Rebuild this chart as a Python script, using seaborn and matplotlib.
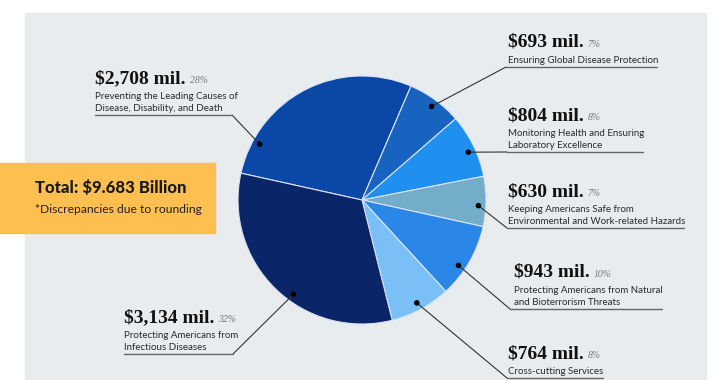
import matplotlib
matplotlib.use("Agg")
import matplotlib.pyplot as plt
import matplotlib.patches as mpatches
import numpy as np
import pandas as pd
import seaborn as sns

# ── data ──
amounts = [2708, 693, 804, 630, 943, 764, 3134]
descriptions = [
    "Preventing the Leading Causes of\nDisease, Disability, and Death",
    "Ensuring Global Disease Protection",
    "Monitoring Health and Ensuring\nLaboratory Excellence",
    "Keeping Americans Safe from\nEnvironmental and Work-related Hazards",
    "Protecting Americans from Natural\nand Bioterrorism Threats",
    "Cross-cutting Services",
    "Protecting Americans from\nInfectious Diseases",
]
total_label = "Total: $9.683 Billion"
note_label = "*Discrepancies due to rounding"

# ── style / layout (pixels, y measured from top) ──
W, H = 720, 380
slice_colors = ["#0b47a6", "#1862c0", "#1f8ff0", "#73adc9",
                "#2a87e8", "#7abff6", "#0b2668"]
pie_center = (362, 200)
pie_radius = 124
start_angle = 167.5
dot_frac = [0.84, 0.48, 0.44, 0.41, 0.38, 0.49, 0.57]
dot_rad = 0.94

# text_x, underline y, underline x0, x1, knee side
label_layout = [
    (95, 115, 95, 232, "left"),
    (508, 67, 506, 657, "right"),
    (508, 152, 507, 643, "right"),
    (508, 228, 507, 684, "right"),
    (514, 309, 510, 662, "right"),
    (508, 378, 507, 603, "right"),
    (124, 354, 124, 233, "left"),
]

SERIF = "Liberation Serif"
SANS = "Lato"


def Y(py):
    return H - py


sns.set_theme(style="white")
fig = plt.figure(figsize=(W / 100, H / 100), dpi=100)
fig.patch.set_facecolor("white")
ax = fig.add_axes([0, 0, 1, 1])

# background panel + total box
ax.add_patch(mpatches.Rectangle((25, 0), 681, Y(13), color="#e8ecef", zorder=0))
ax.add_patch(mpatches.Rectangle((0, Y(233)), 215, 70, color="#fcbf50", zorder=1))

wedges, _ = ax.pie(
    amounts, colors=slice_colors, startangle=start_angle, counterclock=False,
    radius=pie_radius, center=(pie_center[0], Y(pie_center[1])),
    wedgeprops=dict(edgecolor="#d8e4f2", linewidth=0.8),
)
ax.set_xlim(0, W)
ax.set_ylim(0, H)
ax.set_aspect("equal")
ax.axis("off")

# dots inside slices
dots = []
for w, f in zip(wedges, dot_frac):
    ang = np.deg2rad(w.theta1 + f * (w.theta2 - w.theta1))
    dots.append((w.center[0] + dot_rad * w.r * np.cos(ang),
                 w.center[1] + dot_rad * w.r * np.sin(ang)))
dots_df = pd.DataFrame(dots, columns=["x", "y"])
sns.scatterplot(data=dots_df, x="x", y="y", ax=ax, color="black", s=16,
                edgecolor="none", zorder=5, legend=False)

total = sum(amounts)
renderer = fig.canvas.get_renderer()
for (dx, dy), val, desc, (tx, uy, x0, x1, side) in zip(
        dots, amounts, descriptions, label_layout):
    knee_x = x1 if side == "left" else x0
    ax.plot([dx, knee_x], [dy, Y(uy)], color="#333333", lw=0.8, zorder=4)
    ax.plot([x0, x1], [Y(uy), Y(uy)], color="#666666", lw=1.0, zorder=4)

    lines = desc.split("\n")
    for i, ln in enumerate(reversed(lines)):
        ax.text(tx, Y(uy - 4 - 12 * i), ln, family=SANS, fontsize=7,
                color="#2a2a2a", va="baseline", ha="left")
    title_y = Y(uy - 4 - 12 * (len(lines) - 1) - 16)
    t = ax.text(tx, title_y, f"${val:,} mil.", family=SERIF, fontsize=14,
                fontweight="bold", color="#111111", va="baseline", ha="left")
    bb = t.get_window_extent(renderer=renderer)
    ax.text(bb.x1 + 4, title_y, f"{round(val / total * 100)}%", family=SERIF,
            fontsize=7, style="italic", color="#777777", va="baseline", ha="left")

ax.text(35, Y(193), total_label, family=SANS, fontsize=12, fontweight=900,
        color="#1a1a1a", va="baseline", ha="left", zorder=2)
ax.text(35, Y(213), note_label, family=SANS, fontsize=8.7,
        color="#222222", va="baseline", ha="left", zorder=2)

fig.savefig("out.png", dpi=100, facecolor="white")
